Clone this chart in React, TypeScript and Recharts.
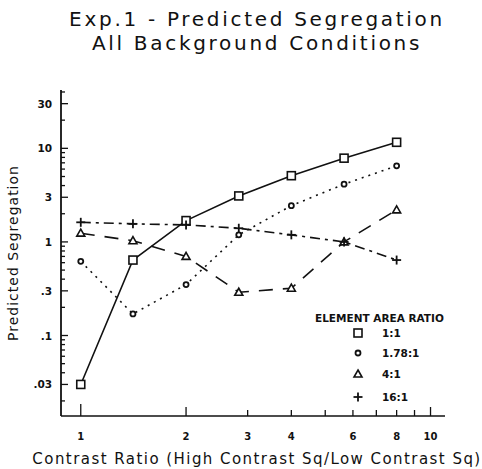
import { LineChart, Line, XAxis, YAxis, Legend } from "recharts"

// contrast ratio steps (sqrt 2 apart)
const contrastRatios = [1, 1.41, 2, 2.83, 4, 5.66, 8]
const area1to1 = [0.03, 0.64, 1.69, 3.1, 5.1, 7.85, 11.6]
const area178to1 = [0.62, 0.17, 0.35, 1.19, 2.44, 4.14, 6.5]
const area4to1 = [1.24, 1.03, 0.7, 0.29, 0.32, 1.0, 2.2]
const area16to1 = [1.62, 1.56, 1.52, 1.4, 1.19, 1.0, 0.64]

const seriesKeys = ["r1", "r178", "r4", "r16"]
const seriesLabels = ["1:1", "1.78:1", "4:1", "16:1"]

const xMajorTicks = [1, 2, 3, 4, 6, 8, 10]
const xMinorTicks = [5, 7, 9]
const yMajorTicks = [0.03, 0.1, 0.3, 1, 3, 10, 30]
const yMajorLabels = [".03", ".1", ".3", "1", "3", "10", "30"]
const yMinorTicks = [
  0.02, 0.04, 0.05, 0.06, 0.07, 0.08, 0.09,
  0.2, 0.4, 0.5, 0.6, 0.7, 0.8, 0.9,
  2, 4, 5, 6, 7, 8, 9,
  20, 40,
]

const data = contrastRatios.map((x, i) => ({
  x,
  r1: area1to1[i],
  r178: area178to1[i],
  r4: area4to1[i],
  r16: area16to1[i],
}))

const INK = "#111"
const tickFont = "'DejaVu Sans', sans-serif"

function Marker({ kind, cx, cy }: { kind: string; cx: number; cy: number }) {
  if (kind === "r1")
    return <rect x={cx - 4} y={cy - 4} width={8} height={8} fill="#fff" stroke={INK} strokeWidth={1.6} />
  if (kind === "r178")
    return <circle cx={cx} cy={cy} r={2.5} fill="#fff" stroke={INK} strokeWidth={1.8} />
  if (kind === "r4")
    return (
      <polygon
        points={`${cx},${cy - 4} ${cx + 4},${cy + 3} ${cx - 4},${cy + 3}`}
        fill="#fff"
        stroke={INK}
        strokeWidth={1.6}
      />
    )
  return (
    <g stroke={INK} strokeWidth={1.8}>
      <line x1={cx - 4.5} x2={cx + 4.5} y1={cy} y2={cy} />
      <line x1={cx} x2={cx} y1={cy - 4.5} y2={cy + 4.5} />
    </g>
  )
}

const makeDot = (kind: string) => (p: any) =>
  <Marker key={`${kind}-${p.index}`} kind={kind} cx={p.cx} cy={p.cy} />

const YTick = (props: any) => {
  const { x, y, payload } = props
  const i = yMajorTicks.indexOf(payload.value)
  return (
    <g>
      <line x1={x} x2={x + (i >= 0 ? 7 : 4)} y1={y} y2={y} stroke={INK} strokeWidth={1.3} />
      {i >= 0 && (
        <text x={x - 9} y={y} textAnchor="end" dominantBaseline="central" fontSize={10.5} fontWeight="bold" fontFamily={tickFont} fill={INK}>
          {yMajorLabels[i]}
        </text>
      )}
    </g>
  )
}

const XTick = (props: any) => {
  const { x, y, payload } = props
  const v = payload.value
  const i = xMajorTicks.indexOf(v)
  const len = v === 1 ? 12 : v === 2 || v === 10 ? 9 : 6
  return (
    <g>
      <line x1={x} x2={x} y1={y} y2={y - len} stroke={INK} strokeWidth={1.3} />
      {i >= 0 && (
        <text x={x} y={y + 20} textAnchor="middle" dominantBaseline="central" fontSize={10} fontWeight="bold" fontFamily={tickFont} fill={INK}>
          {v}
        </text>
      )}
    </g>
  )
}

const YTitle = (props: any) => {
  const { viewBox } = props
  const cx = viewBox.x + 13
  const cy = viewBox.y + viewBox.height / 2
  return (
    <text x={cx} y={cy} transform={`rotate(-90 ${cx} ${cy})`} textAnchor="middle" dominantBaseline="central" fontSize={14} letterSpacing={1} fontFamily={tickFont} fill={INK}>
      Predicted Segregation
    </text>
  )
}

const XTitle = (props: any) => {
  const { viewBox } = props
  return (
    <text x={257} y={viewBox.y + 43} textAnchor="middle" dominantBaseline="central" fontSize={15} letterSpacing={1.45} fontFamily={tickFont} fill={INK}>
      Contrast Ratio (High Contrast Sq/Low Contrast Sq)
    </text>
  )
}

const rowY = [27, 47, 68, 91]

const LegendBox = () => (
  <svg width={160} height={104} style={{ display: "block" }}>
    <text x={7} y={12} dominantBaseline="central" fontSize={10.5} fontWeight="bold" fontFamily={tickFont} fill={INK}>
      ELEMENT AREA RATIO
    </text>
    {seriesKeys.map((k, i) => (
      <g key={k}>
        <Marker kind={k} cx={50} cy={rowY[i]} />
        <text x={74} y={rowY[i]} dominantBaseline="central" fontSize={10.5} fontWeight="bold" fontFamily={tickFont} fill={INK}>
          {seriesLabels[i]}
        </text>
      </g>
    ))}
  </svg>
)

export default function App() {
  return (
    <div style={{ position: "absolute", left: 0, top: 0, width: 482, height: 469, background: "#fff" }}>
      <div
        style={{
          position: "absolute",
          left: 0,
          top: 7,
          width: 514,
          textAlign: "center",
          fontFamily: tickFont,
          fontSize: 20,
          lineHeight: "24px",
          letterSpacing: 2.7,
          color: INK,
        }}
      >
        <div>Exp.1 - Predicted Segregation</div>
        <div>All Background Conditions</div>
      </div>
      <LineChart width={482} height={469} data={data} margin={{ top: 90, right: 37, bottom: 0, left: 0 }}>
        <XAxis
          dataKey="x"
          type="number"
          scale="log"
          domain={[0.878, 11]}
          allowDataOverflow
          ticks={[...xMajorTicks, ...xMinorTicks].sort((a, b) => a - b)}
          interval={0}
          tickSize={0}
          tickMargin={0}
          tick={<XTick />}
          height={53}
          axisLine={{ stroke: INK, strokeWidth: 1.6 }}
          label={<XTitle />}
        />
        <YAxis
          type="number"
          scale="log"
          domain={[0.0138, 42]}
          allowDataOverflow
          ticks={[...yMajorTicks, ...yMinorTicks].sort((a, b) => a - b)}
          interval={0}
          tickSize={0}
          tickMargin={0}
          tick={<YTick />}
          width={61}
          axisLine={{ stroke: INK, strokeWidth: 1.8 }}
          label={<YTitle />}
        />
        <Legend
          layout="vertical"
          align="center"
          verticalAlign="middle"
          wrapperStyle={{ left: 308, top: 306, width: 160 }}
          content={() => <LegendBox />}
        />
        <Line dataKey="r1" stroke={INK} strokeWidth={1.6} dot={makeDot("r1")} isAnimationActive={false} />
        <Line dataKey="r178" stroke={INK} strokeWidth={1.6} strokeDasharray="2 5" dot={makeDot("r178")} isAnimationActive={false} />
        <Line dataKey="r4" stroke={INK} strokeWidth={1.6} strokeDasharray="14 10" dot={makeDot("r4")} isAnimationActive={false} />
        <Line dataKey="r16" stroke={INK} strokeWidth={1.6} strokeDasharray="10 5 3 5" dot={makeDot("r16")} isAnimationActive={false} />
      </LineChart>
    </div>
  )
}
